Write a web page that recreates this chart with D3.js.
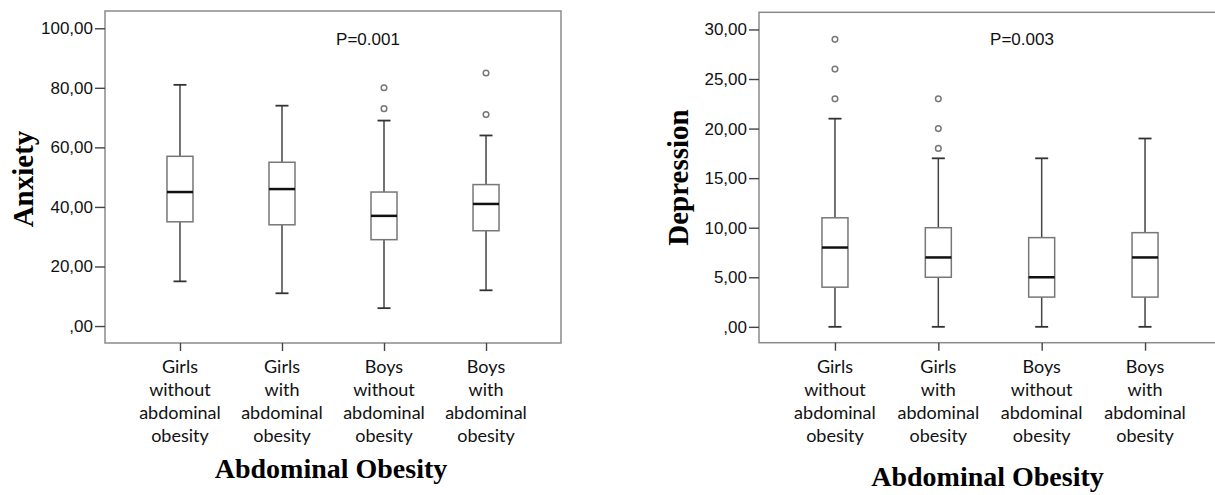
<!DOCTYPE html>
<html>
<head>
<meta charset="utf-8">
<script src="https://cdn.jsdelivr.net/npm/d3@7"></script>
<style>
  html, body { margin: 0; padding: 0; background: #fff; }
  svg { display: block; }
</style>
</head>
<body>
<svg id="chart" width="1215" height="495"></svg>
<script>
// ---------- DATA ----------
const categories = [
  "Girls without abdominal obesity",
  "Girls with abdominal obesity",
  "Boys without abdominal obesity",
  "Boys with abdominal obesity"
];

// Anxiety panel
const anxMin = [15, 11, 6, 12];
const anxQ1 = [35, 34, 29, 32];
const anxMedian = [45, 46, 37, 41];
const anxQ3 = [57, 55, 45, 47.5];
const anxMax = [81, 74, 69, 64];
const anxOutliers = [[], [], [80, 73], [85, 71]];
const anxTicks = [0, 20, 40, 60, 80, 100];
const anxP = "P=0.001";

// Depression panel
const depMin = [0, 0, 0, 0];
const depQ1 = [4, 5, 3, 3];
const depMedian = [8, 7, 5, 7];
const depQ3 = [11, 10, 9, 9.5];
const depMax = [21, 17, 17, 19];
const depOutliers = [[29, 26, 23], [23, 20, 18], [], []];
const depTicks = [0, 5, 10, 15, 20, 25, 30];
const depP = "P=0.003";

const xTitle = "Abdominal Obesity";

// ---------- DRAW ----------
const svg = d3.select("#chart");

function fmt(v) {
  // SPSS-style comma decimal: 0 -> ",00", 20 -> "20,00"
  return (v === 0 ? "" : String(v)) + ",00";
}

function drawPanel(opt) {
  const g = svg.append("g");
  const { left, right, top, bottom } = opt.frame;

  const x = d3.scalePoint()
    .domain(categories)
    .range([left, right])
    .padding(0.735);

  const y = d3.scaleLinear()
    .domain(opt.yDomain)
    .range([bottom, top]);

  // frame
  g.append("rect")
    .attr("x", left).attr("y", top)
    .attr("width", right - left).attr("height", bottom - top)
    .attr("fill", "none")
    .attr("stroke", "#8a8a8a")
    .attr("stroke-width", 1.5);

  // y axis
  const yAxis = g.append("g")
    .attr("transform", `translate(${left},0)`)
    .call(d3.axisLeft(y).tickValues(opt.ticks).tickFormat(fmt).tickSize(10).tickPadding(2));
  yAxis.select(".domain").remove();
  yAxis.selectAll(".tick line").attr("stroke", "#444").attr("stroke-width", 1.4);
  yAxis.selectAll(".tick text")
    .attr("fill", "#111")
    .style("font-family", "'Liberation Sans', Arial, sans-serif")
    .style("font-size", "17px");

  // x axis ticks
  const xAxis = g.append("g")
    .attr("transform", `translate(0,${bottom})`)
    .call(d3.axisBottom(x).tickSize(8).tickFormat(""));
  xAxis.select(".domain").remove();
  xAxis.selectAll(".tick line").attr("stroke", "#444").attr("stroke-width", 1.4);

  // category labels (multi-line)
  categories.forEach(c => {
    const t = g.append("text")
      .attr("text-anchor", "middle")
      .attr("fill", "#111")
      .style("font-family", "Lato, 'Open Sans', sans-serif")
      .style("font-size", "18px");
    c.split(" ").forEach((w, i) => {
      t.append("tspan")
        .attr("x", x(c))
        .attr("y", opt.labelY + i * 23)
        .text(w);
    });
  });

  // boxes
  const boxW = 26, capW = 13;
  categories.forEach((c, i) => {
    const cx = x(c);
    const d = opt.data;
    // whiskers
    g.append("line").attr("x1", cx).attr("x2", cx)
      .attr("y1", y(d.q3[i])).attr("y2", y(d.max[i]))
      .attr("stroke", "#444").attr("stroke-width", 1.5);
    g.append("line").attr("x1", cx).attr("x2", cx)
      .attr("y1", y(d.q1[i])).attr("y2", y(d.min[i]))
      .attr("stroke", "#444").attr("stroke-width", 1.5);
    // caps
    [d.max[i], d.min[i]].forEach(v => {
      g.append("line").attr("x1", cx - capW / 2).attr("x2", cx + capW / 2)
        .attr("y1", y(v)).attr("y2", y(v))
        .attr("stroke", "#333").attr("stroke-width", 1.8);
    });
    // box
    g.append("rect")
      .attr("x", cx - boxW / 2).attr("y", y(d.q3[i]))
      .attr("width", boxW).attr("height", y(d.q1[i]) - y(d.q3[i]))
      .attr("fill", "#fff")
      .attr("stroke", "#777").attr("stroke-width", 1.5);
    // median
    g.append("line").attr("x1", cx - boxW / 2).attr("x2", cx + boxW / 2)
      .attr("y1", y(d.median[i])).attr("y2", y(d.median[i]))
      .attr("stroke", "#111").attr("stroke-width", 2.5);
    // outliers
    d.outliers[i].forEach(v => {
      g.append("circle").attr("cx", cx).attr("cy", y(v)).attr("r", 2.8)
        .attr("fill", "#fff").attr("stroke", "#777").attr("stroke-width", 1.5);
    });
  });

  // P value
  g.append("text")
    .attr("x", left + 263).attr("y", 45)
    .attr("text-anchor", "middle")
    .attr("fill", "#111")
    .style("font-family", "'Liberation Sans', Arial, sans-serif")
    .style("font-size", "17px")
    .text(opt.p);

  // y title
  g.append("text")
    .attr("transform", `translate(${opt.yTitleX},${opt.yTitleY}) rotate(-90)`)
    .attr("text-anchor", "middle")
    .attr("fill", "#000")
    .style("font-family", "'Liberation Serif', 'Times New Roman', serif")
    .style("font-weight", "bold")
    .style("font-size", "29px")
    .text(opt.yTitle);

  // x title
  g.append("text")
    .attr("x", (left + opt.titleRight) / 2).attr("y", opt.xTitleY)
    .attr("text-anchor", "middle")
    .attr("fill", "#000")
    .style("font-family", "'Liberation Serif', 'Times New Roman', serif")
    .style("font-weight", "bold")
    .style("font-size", "28px")
    .text(xTitle);
}

drawPanel({
  frame: { left: 105, right: 561, top: 11, bottom: 343 },
  yDomain: [-5.7, 105.8],
  ticks: anxTicks,
  data: { min: anxMin, q1: anxQ1, median: anxMedian, q3: anxQ3, max: anxMax, outliers: anxOutliers },
  p: anxP,
  yTitle: "Anxiety", yTitleX: 33, yTitleY: 179,
  labelY: 372.5,
  titleRight: 557,
  xTitleY: 478
});

drawPanel({
  frame: { left: 759, right: 1221, top: 12.3, bottom: 342.7 },
  yDomain: [-1.6, 31.73],
  ticks: depTicks,
  data: { min: depMin, q1: depQ1, median: depMedian, q3: depQ3, max: depMax, outliers: depOutliers },
  p: depP,
  yTitle: "Depression", yTitleX: 688, yTitleY: 177.5,
  labelY: 372.5,
  titleRight: 1216,
  xTitleY: 485.5
});
</script>
</body>
</html>
